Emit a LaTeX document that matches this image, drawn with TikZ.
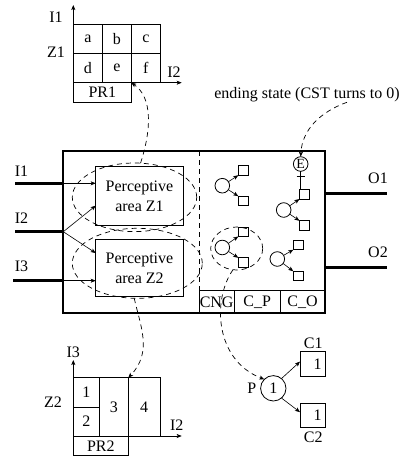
\documentclass[tikz,border=0pt]{standalone}
\usepackage{fontspec}
\setmainfont{Liberation Serif}
\usetikzlibrary{arrows.meta,shapes.geometric}
\begin{document}
\begin{tikzpicture}[x=1pt,y=-1pt,
  every node/.style={font=\fontsize{16}{20}\selectfont, inner sep=0pt, outer sep=0pt},
  cellbox/.style={draw, line width=0.8pt},
  circ/.style={circle, draw, line width=0.8pt, minimum size=14.6pt},
  sq/.style={draw, line width=0.8pt, minimum width=10pt, minimum height=9.5pt},
  arr/.style={-{Stealth[length=5pt,width=4pt,inset=1.2pt]}, line width=0.6pt},
  dasharr/.style={-{Stealth[length=5pt,width=4pt,inset=1.2pt]}, line width=0.7pt, dash pattern=on 5pt off 4pt},
  dashln/.style={draw, line width=0.7pt, dash pattern=on 5pt off 4pt},
  thickline/.style={line width=3pt},
  thinline/.style={line width=0.8pt}
]
\useasboundingbox (0,0) rectangle (407,456);

% ---------- top grid PR1 ----------
\node[cellbox, minimum width=29pt, minimum height=29.2pt] (a) at (87.8,38.9) {a};
\node[cellbox, minimum width=29pt, minimum height=29.2pt] (b) at (116.8,38.9) {b};
\node[cellbox, minimum width=29pt, minimum height=29.2pt] (c) at (145.8,38.9) {c};
\node[cellbox, minimum width=29pt, minimum height=29.2pt] (d) at (87.8,68.1) {d};
\node[cellbox, minimum width=29pt, minimum height=29.2pt] (e) at (116.8,68.1) {e};
\node[cellbox, minimum width=29pt, minimum height=29.2pt] (f) at (145.8,68.1) {f};
\node[cellbox, minimum width=58pt, minimum height=19.3pt] (PR1) at (102.3,92.35) {PR1};
\coordinate (ax1) at (73.3,5);
\coordinate (ax2) at (181.7,82.7);
\draw[arr] (a.north west) -- (ax1);
\draw[arr] (f.south east) -- (ax2);
\node (lI1t) at (56,17) {I1};
\node (lZ1) at (56,52) {Z1};
\node (lI2t) at (174,71.7) {I2};

% ---------- ending state ----------
\node (endtxt) at (307,95) {ending state (CST turns to 0)};

% ---------- main box ----------
\node[draw, line width=2pt, minimum width=261.7pt, minimum height=162.3pt] (main) at (194.15,232.15) {};

% inputs
\coordinate (inI1) at (15,183.3);
\coordinate (inI2) at (15,231.7);
\coordinate (inI3) at (13,280.7);
\coordinate (jI1) at (63.3,183.3);
\coordinate (jI2) at (63.3,231.7);
\coordinate (jI3) at (63.3,280.7);
\draw[thickline] (inI1) -- (jI1);
\draw[thickline] (inI2) -- (jI2);
\draw[thickline] (inI3) -- (jI3);
\node (lI1) at (21.5,171.7) {I1};
\node (lI2) at (21.5,218) {I2};
\node (lI3) at (21.5,266.7) {I3};

% perceptive areas
\node[draw, line width=0.8pt, minimum width=87.6pt, minimum height=58.3pt, align=center] (Z1) at (139.5,195.85) {Perceptive\\area Z1};
\node[draw, line width=0.8pt, minimum width=87.6pt, minimum height=57.7pt, align=center] (Z2) at (139.5,267.85) {Perceptive\\area Z2};
\draw[arr] (jI1) -- (jI1 -| Z1.west);
\draw[arr] (jI2) -- ([yshift=-9.85pt]Z1.west);
\draw[arr] (jI2) -- ([yshift=14.85pt]Z2.west);
\draw[arr] (jI3) -- (jI3 -| Z2.west);

% dashed ellipses
\node[ellipse, dashln, minimum width=124.4pt, minimum height=68.6pt] (e1) at (134.5,197.3) {};
\node[ellipse, dashln, minimum width=130pt, minimum height=70pt] (e2) at (137.3,263.3) {};

% bottom label row
\node[draw, line width=0.8pt, minimum width=35.3pt, minimum height=22.6pt] (CNG) at (216.65,302) {CNG};
\node[draw, line width=0.8pt, minimum width=45.7pt, minimum height=22.6pt] (CP) at (257.15,302) {C\_P};
\node[draw, line width=0.8pt, minimum width=45pt, minimum height=22.6pt] (CO) at (302.5,302) {C\_O};
\coordinate (dtop) at (199,151);
\draw[dashln] (dtop) -- (CNG.north west);
% redraw main box border on top
\node[draw, line width=2pt, minimum width=261.7pt, minimum height=162.3pt] at (main.center) {};

% groups
\node[circ] (c1) at (222.3,185.7) {};
\node[sq] (s1a) at (243.3,170.5) {};
\node[sq] (s1b) at (243.3,201) {};
\draw[arr] (c1) -- (s1a.south west);
\draw[arr] (c1) -- (s1b.north west);

\node[circ] (c2) at (222.3,247.5) {};
\node[sq] (s2a) at (243.3,231.7) {};
\node[sq] (s2b) at (243.3,262.5) {};
\draw[arr] (c2) -- (s2a.south west);
\draw[arr] (c2) -- (s2b.north west);
\node[ellipse, dashln, minimum width=52pt, minimum height=43pt] (dc) at (236.7,248.5) {};

\node[circ, font=\fontsize{14}{16}\selectfont] (E) at (300.7,164) {E};
\node[circ] (c3) at (283.7,210) {};
\node[sq] (s3a) at (304.5,194.3) {};
\node[sq] (s3b) at (304.5,225.5) {};
\draw[arr] (c3) -- (s3a.south west);
\draw[arr] (c3) -- (s3b.north west);
\draw[thinline] (E.south) -- (E.south |- s3a.north);
\coordinate (bar) at (300.7,176);
\draw[thinline] ([xshift=-4pt]bar) -- ([xshift=4pt]bar);

\node[circ] (c4) at (277.3,259) {};
\node[sq] (s4a) at (298.3,245) {};
\node[sq] (s4b) at (298.3,276) {};
\draw[arr] (c4) -- (s4a.south west);
\draw[arr] (c4) -- (s4b.north west);

% outputs
\coordinate (o1s) at (325,193.3);
\coordinate (o1e) at (386.7,193.3);
\coordinate (o2s) at (325,267.7);
\coordinate (o2e) at (386.7,267.7);
\draw[thickline] (o1s) -- (o1e);
\draw[thickline] (o2s) -- (o2e);
\node (lO1) at (378,178.3) {O1};
\node (lO2) at (378,252.7) {O2};

% ---------- bottom grid PR2 ----------
\node[cellbox, minimum width=26pt, minimum height=29.6pt] (g1) at (86.3,392.5) {1};
\node[cellbox, minimum width=26pt, minimum height=28.7pt] (g2) at (86.3,421.65) {2};
\node[cellbox, minimum width=29pt, minimum height=58.3pt] (g3) at (113.8,406.85) {3};
\node[cellbox, minimum width=31.7pt, minimum height=58.3pt] (g4) at (144.15,406.85) {4};
\node[cellbox, minimum width=55pt, minimum height=19.7pt] (PR2) at (100.8,445.85) {PR2};
\coordinate (ax3) at (73.3,360);
\coordinate (ax4) at (181.7,436);
\draw[arr] (g1.north west) -- (ax3);
\draw[arr] (g4.south east) -- (ax4);
\node (lI3b) at (73.3,352.7) {I3};
\node (lZ2) at (53,401.7) {Z2};
\node (lI2b) at (176.7,425) {I2};

% ---------- P and C1, C2 ----------
\node[circ, minimum size=25.4pt] (P1) at (273.3,388.3) {1};
\node (lP) at (251.7,388.3) {P};
\node[draw, line width=0.8pt, minimum width=25pt, minimum height=24.3pt, text width=18pt, align=right] (C1) at (312.5,363.85) {1};
\node[draw, line width=0.8pt, minimum width=25pt, minimum height=24.3pt, text width=18pt, align=right] (C2) at (312.5,415.5) {1};
\node (lC1) at (313.3,343.3) {C1};
\node (lC2) at (313.3,437.3) {C2};
\draw[arr] (P1.50) -- (C1.170);
\draw[arr] (P1.-50) -- (C2.165);

% ---------- dashed connectors ----------
\draw[dasharr] (e1.80) .. controls (152,128) and (152,97) .. (PR1.north east);
\draw[dasharr] (e2.-95) .. controls (140,325) and (153,352) .. (g4.north west);
\draw[dasharr] (dc.-100) .. controls (212,300) and (215,360) .. (P1.135);
\draw[dasharr] ([xshift=40pt]endtxt.south) .. controls (320,112) and (302,130) .. (E.north);
\end{tikzpicture}
\end{document}
